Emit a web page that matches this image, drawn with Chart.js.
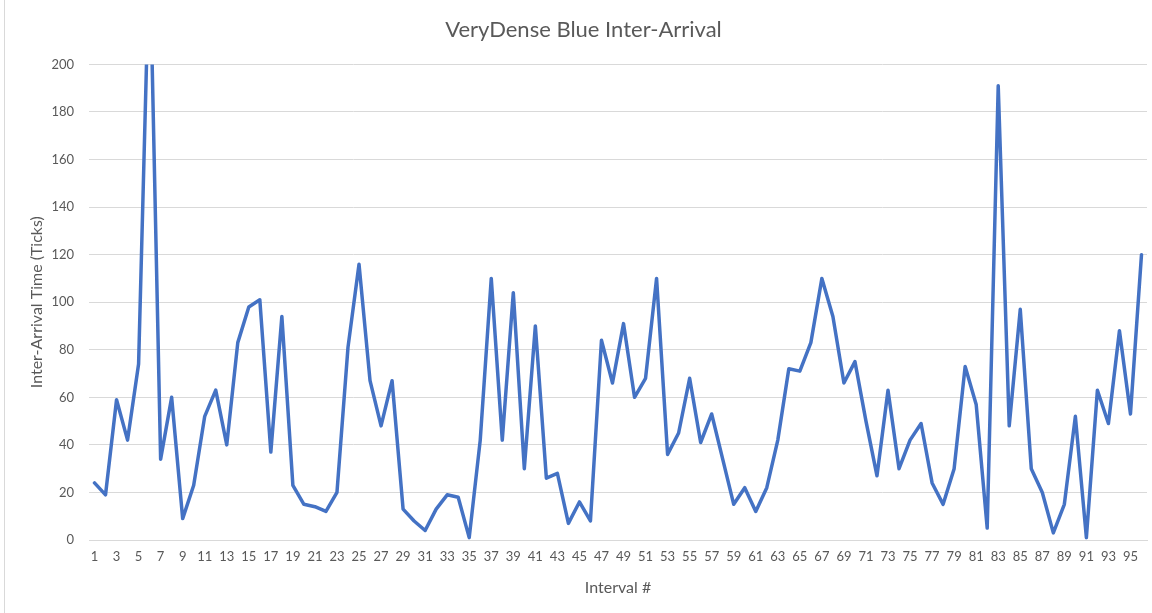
<!DOCTYPE html>
<html>
<head>
<meta charset="utf-8">
<script src="https://cdn.jsdelivr.net/npm/chart.js@4"></script>
<style>
  html, body { margin: 0; padding: 0; background: #fff; }
  #wrap { position: relative; width: 1152px; height: 613px; }
  #edge { position: absolute; left: 4px; top: 0; width: 1px; height: 613px; background: #d9d9d9; }
</style>
</head>
<body>
<div id="wrap">
  <canvas id="chart" width="1152" height="613"></canvas>
  <div id="edge"></div>
</div>
<script>
// interval numbers 1..96
const intervals = [];
for (let i = 1; i <= 96; i++) intervals.push(String(i));

// inter-arrival times (interval 6 goes past the top of the axis)
const interArrival = [
  24, 19, 59, 42, 74, 250, 34, 60, 9, 23,
  52, 63, 40, 83, 98, 101, 37, 94, 23, 15,
  14, 12, 20, 81, 116, 67, 48, 67, 13, 8,
  4, 13, 19, 18, 1, 42, 110, 42, 104, 30,
  90, 26, 28, 7, 16, 8, 84, 66, 91, 60,
  68, 110, 36, 45, 68, 41, 53, 34, 15, 22,
  12, 22, 42, 72, 71, 83, 110, 94, 66, 75,
  50, 27, 63, 30, 42, 49, 24, 15, 30, 73,
  57, 5, 191, 48, 97, 30, 20, 3, 15, 52,
  1, 63, 49, 88, 53, 120
];

const yTicks = [0, 20, 40, 60, 80, 100, 120, 140, 160, 180, 200];

const textColor = '#595959';
const gridColor = '#d9d9d9';
const fontFamily = 'Lato, "Open Sans", sans-serif';

const ctx = document.getElementById('chart').getContext('2d');
new Chart(ctx, {
  type: 'line',
  data: {
    labels: intervals,
    datasets: [{
      label: 'Inter-Arrival',
      data: interArrival,
      borderColor: '#4472C4',
      backgroundColor: '#4472C4',
      borderWidth: 3.5,
      borderJoinStyle: 'round',
      borderCapStyle: 'round',
      pointRadius: 0,
      tension: 0,
      fill: false
    }]
  },
  options: {
    responsive: false,
    animation: false,
    layout: {
      padding: { left: 20, right: 5, top: 0, bottom: 0 }
    },
    plugins: {
      legend: { display: false },
      tooltip: { enabled: false },
      title: {
        display: true,
        text: 'VeryDense Blue Inter-Arrival',
        color: textColor,
        font: { family: fontFamily, size: 22, weight: 'normal' },
        padding: { top: 17, bottom: 21 }
      }
    },
    scales: {
      x: {
        offset: true,
        grid: { display: false, drawTicks: false },
        border: { display: true, color: gridColor, width: 1 },
        ticks: {
          autoSkip: false,
          maxRotation: 0,
          minRotation: 0,
          padding: 9,
          color: textColor,
          font: { family: fontFamily, size: 13 },
          callback: function (value, index) {
            return index % 2 === 0 ? this.getLabelForValue(value) : '';
          }
        },
        title: {
          display: true,
          text: 'Interval #',
          color: textColor,
          font: { family: fontFamily, size: 16 },
          padding: { top: 4, bottom: 16 }
        },
        afterFit: (scale) => { scale.height = 73; }
      },
      y: {
        min: 0,
        max: 200,
        afterBuildTicks: (scale) => { scale.ticks = yTicks.map(v => ({ value: v })); },
        grid: { color: gridColor, drawTicks: false },
        border: { display: false },
        ticks: {
          padding: 15,
          color: textColor,
          font: { family: fontFamily, size: 13 }
        },
        title: {
          display: true,
          text: 'Inter-Arrival Time (Ticks)',
          color: textColor,
          font: { family: fontFamily, size: 16 },
          padding: { top: 7, bottom: 4 }
        },
        afterFit: (scale) => { scale.width = 69; }
      }
    }
  }
});
</script>
</body>
</html>
